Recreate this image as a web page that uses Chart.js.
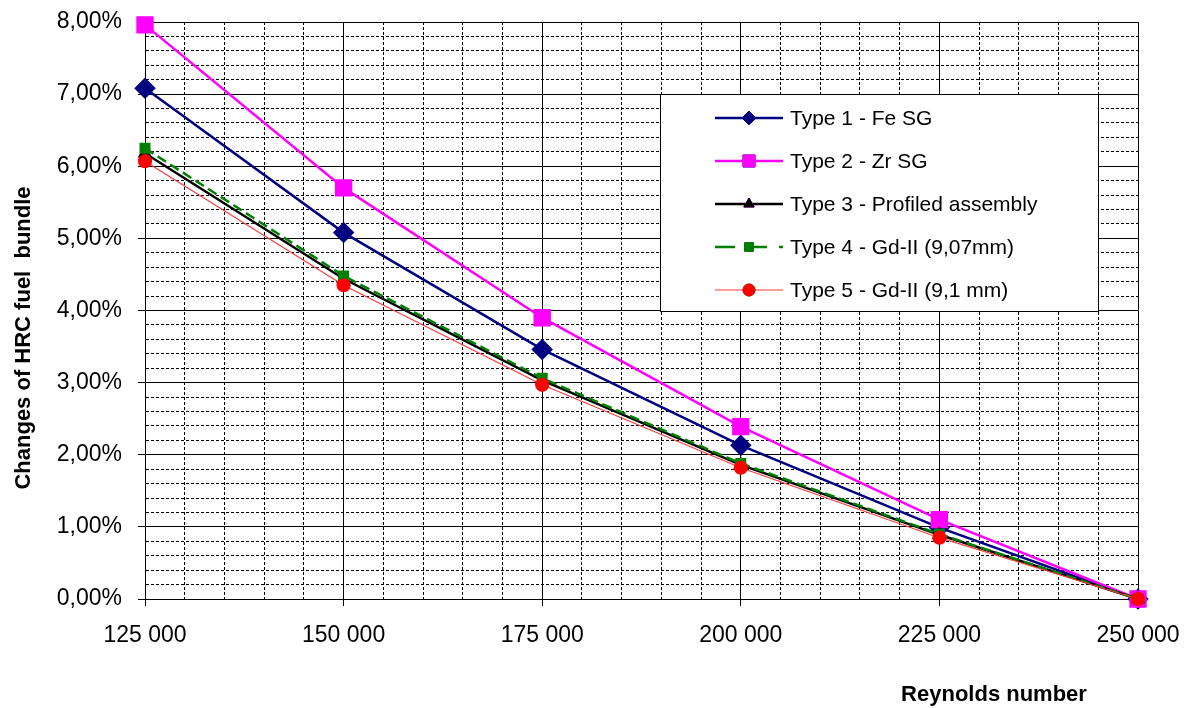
<!DOCTYPE html>
<html>
<head>
<meta charset="utf-8">
<script src="https://cdn.jsdelivr.net/npm/chart.js@4"></script>
<style>
  html, body { margin: 0; padding: 0; background: #fff; }
  #wrap { width: 1195px; height: 708px; }
</style>
</head>
<body>
<div id="wrap"><canvas id="hrcChart" width="1195" height="708"></canvas></div>
<script>
// Reynolds numbers (x) and changes of HRC in percent (y)
const reynolds = [125000, 150000, 175000, 200000, 225000, 250000];
const type1FeSG = [7.08, 5.08, 3.46, 2.13, 0.99, 0];
const type2ZrSG = [7.96, 5.70, 3.90, 2.39, 1.10, 0];
const type3Profiled = [6.18, 4.44, 3.03, 1.86, 0.89, 0];
const type4Gd907 = [6.25, 4.48, 3.06, 1.88, 0.90, 0];
const type5Gd91 = [6.07, 4.35, 2.97, 1.82, 0.85, 0];
const seriesNames = [
  "Type 1 - Fe SG",
  "Type 2 - Zr SG",
  "Type 3 - Profiled assembly",
  "Type 4 - Gd-II (9,07mm)",
  "Type 5 - Gd-II (9,1 mm)"
];

const FONT = "'Liberation Sans', Arial, sans-serif";

const toPoints = (vals) => vals.map((v, i) => ({ x: reynolds[i], y: v }));

const formatReynolds = (v) => String(v).replace(/\B(?=(\d{3})+(?!\d))/g, " ");
const formatPercent = (v) => v.toFixed(2).replace(".", ",") + "%";

const isMajorX = (v) => v % 25000 === 0;
const isMajorY = (v) => Math.abs(v - Math.round(v)) < 1e-6;

// Draws the legend box inside the plot and both axis titles
const customDecor = {
  id: "customDecor",
  afterDraw(chart) {
    const ctx = chart.ctx;
    ctx.save();

    // legend box
    const bx = 660, by = 94, bw = 438, bh = 217;
    ctx.fillStyle = "#fff";
    ctx.fillRect(bx, by, bw, bh);
    ctx.strokeStyle = "#000";
    ctx.lineWidth = 1;
    ctx.strokeRect(bx + 0.5, by + 0.5, bw, bh);

    const rowY = [118, 161, 204, 247, 290];
    chart.data.datasets.forEach((ds, i) => {
      const y = rowY[i];
      ctx.save();
      ctx.strokeStyle = ds.borderColor;
      ctx.lineWidth = ds.borderWidth;
      ctx.setLineDash(ds.legendDash || []);
      ctx.beginPath();
      ctx.moveTo(715, y);
      ctx.lineTo(783, y);
      ctx.stroke();
      ctx.restore();
      Chart.helpers.drawPoint(ctx, {
        pointStyle: ds.pointStyle,
        radius: ds.legendRadius,
        borderWidth: 1
      }, 749, y);
      ctx.fillStyle = ds.pointBackgroundColor;
      ctx.strokeStyle = ds.pointBorderColor;
      ctx.fill();
      ctx.stroke();

      ctx.fillStyle = "#000";
      ctx.font = "21px " + FONT;
      ctx.textAlign = "left";
      ctx.textBaseline = "middle";
      ctx.fillText(ds.label, 790, y + 1);
    });

    // axis titles
    ctx.fillStyle = "#000";
    ctx.font = "bold 22px " + FONT;
    ctx.textAlign = "center";
    ctx.textBaseline = "middle";
    ctx.fillText("Reynolds number", 994, 695);

    ctx.translate(24, 338);
    ctx.rotate(-Math.PI / 2);
    ctx.fillText("Changes of HRC fuel  bundle", 0, 0);
    ctx.restore();
  }
};

const ctx = document.getElementById("hrcChart").getContext("2d");
new Chart(ctx, {
  type: "line",
  data: {
    datasets: [
      {
        label: seriesNames[0],
        data: toPoints(type1FeSG),
        borderColor: "#000080",
        borderWidth: 2.5,
        pointStyle: "rectRot",
        pointRadius: 9,
        legendRadius: 7,
        pointBackgroundColor: "#000080",
        pointBorderColor: "#000080",
        order: 5
      },
      {
        label: seriesNames[1],
        data: toPoints(type2ZrSG),
        borderColor: "#ff00ff",
        borderWidth: 2.5,
        pointStyle: "rect",
        pointRadius: 10.5,
        legendRadius: 8.5,
        pointBackgroundColor: "#ff00ff",
        pointBorderColor: "#ff00ff",
        order: 4
      },
      {
        label: seriesNames[2],
        data: toPoints(type3Profiled),
        borderColor: "#000000",
        borderWidth: 2.5,
        pointStyle: "triangle",
        pointRadius: 6,
        legendRadius: 6,
        pointBackgroundColor: "#000000",
        pointBorderColor: "#000000",
        order: 3
      },
      {
        label: seriesNames[3],
        data: toPoints(type4Gd907),
        borderColor: "#008000",
        borderWidth: 2.5,
        borderDash: [10, 5],
        legendDash: [20, 12],
        pointStyle: "rect",
        pointRadius: 6,
        legendRadius: 6,
        pointBackgroundColor: "#008000",
        pointBorderColor: "#008000",
        order: 2
      },
      {
        label: seriesNames[4],
        data: toPoints(type5Gd91),
        borderColor: "#ff3b3b",
        borderWidth: 1.2,
        pointStyle: "circle",
        pointRadius: 6.5,
        legendRadius: 6,
        pointBackgroundColor: "#ff0000",
        pointBorderColor: "#ff0000",
        order: 1
      }
    ]
  },
  options: {
    responsive: false,
    animation: false,
    clip: false,
    layout: { padding: { top: 22, right: 57, left: 0, bottom: 0 } },
    plugins: {
      legend: { display: false },
      tooltip: { enabled: false }
    },
    elements: {
      line: { tension: 0 },
      point: { borderWidth: 1 }
    },
    scales: {
      x: {
        type: "linear",
        min: 125000,
        max: 250000,
        afterFit: (scale) => {
          scale.height = 109;
          scale.paddingLeft = 0;
          scale.paddingRight = 0;
        },
        ticks: {
          stepSize: 5000,
          autoSkip: false,
          maxRotation: 0,
          padding: 16,
          color: "#000",
          font: { family: FONT, size: 23 },
          callback: (v) => isMajorX(v) ? formatReynolds(v) : ""
        },
        grid: {
          color: "#000",
          lineWidth: 1,
          tickLength: 7,
          tickColor: (c) => (c.tick && isMajorX(c.tick.value)) ? "#000" : "rgba(0,0,0,0)"
        },
        border: {
          color: "#000",
          width: 1,
          dash: (c) => (c.tick && !isMajorX(c.tick.value)) ? [3, 2] : []
        }
      },
      y: {
        min: 0,
        max: 8,
        afterFit: (scale) => {
          scale.width = 145;
          scale.paddingTop = 0;
          scale.paddingBottom = 0;
        },
        ticks: {
          stepSize: 0.2,
          autoSkip: false,
          padding: 16,
          color: "#000",
          font: { family: FONT, size: 23 },
          callback: (v) => isMajorY(v) ? formatPercent(v) : ""
        },
        grid: {
          color: "#000",
          lineWidth: 1,
          tickLength: 7,
          tickColor: (c) => (c.tick && isMajorY(c.tick.value)) ? "#000" : "rgba(0,0,0,0)"
        },
        border: {
          color: "#000",
          width: 1,
          dash: (c) => (c.tick && !isMajorY(c.tick.value)) ? [3, 2] : []
        }
      }
    }
  },
  plugins: [customDecor]
});
</script>
</body>
</html>
